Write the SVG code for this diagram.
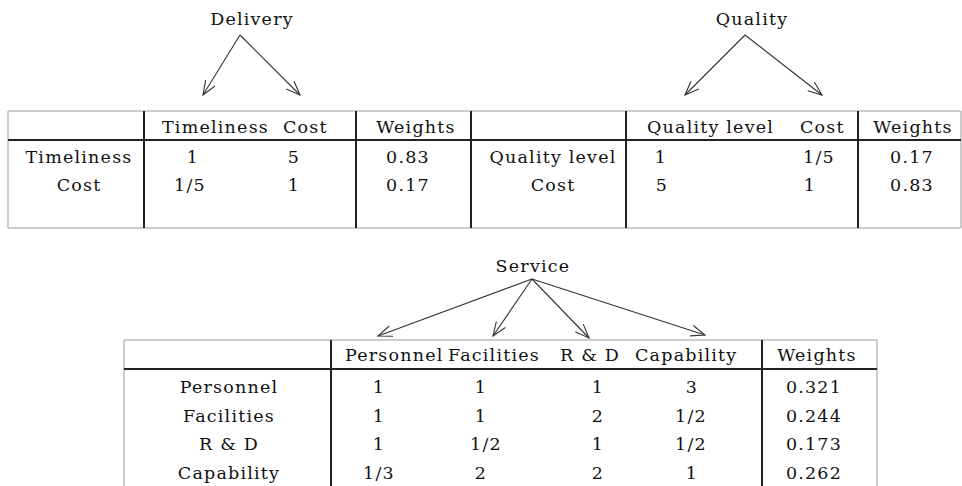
<svg xmlns="http://www.w3.org/2000/svg" width="962" height="486" viewBox="0 0 962 486">
<style>
text{font-family:"DejaVu Serif","Liberation Serif",serif;font-size:17.5px;fill:#111;letter-spacing:1.2px}
.m{text-anchor:middle}
.g{stroke:#bdbdbd;stroke-width:1.5;fill:none}
.d{stroke:#222;stroke-width:2;fill:none}
.c{stroke:#333;stroke-width:1.1;fill:none;marker-end:url(#ah)}
</style>
<defs>
<marker id="ah" viewBox="0 0 16 12" refX="15" refY="6" markerWidth="16" markerHeight="12" markerUnits="userSpaceOnUse" orient="auto">
<path d="M1,0.5 L15,6 L1,11.5" fill="none" stroke="#333" stroke-width="1.1"/>
</marker>
</defs>
<rect width="962" height="486" fill="#fff"/>

<g id="node-delivery"><text class="m" x="252" y="25">Delivery</text></g>
<g id="node-quality"><text class="m" x="752" y="25">Quality</text></g>
<g id="node-service"><text class="m" x="533" y="272">Service</text></g>

<g id="connectors">
<line class="c" x1="240" y1="35" x2="203" y2="95"/>
<line class="c" x1="240" y1="35" x2="300" y2="95"/>
<line class="c" x1="745" y1="35" x2="685" y2="95"/>
<line class="c" x1="745" y1="35" x2="822" y2="95"/>
<line class="c" x1="532" y1="279" x2="378" y2="336"/>
<line class="c" x1="532" y1="279" x2="493" y2="336"/>
<line class="c" x1="532" y1="279" x2="589" y2="338"/>
<line class="c" x1="532" y1="279" x2="705" y2="335"/>
</g>

<g id="table-top">
<line class="g" x1="8" y1="111" x2="961" y2="111"/>
<line class="g" x1="8" y1="228" x2="961" y2="228"/>
<line class="g" x1="8" y1="111" x2="8" y2="228"/>
<line class="g" x1="961" y1="111" x2="961" y2="228"/>
<line class="d" x1="8" y1="140" x2="961" y2="140"/>
<line class="d" x1="144" y1="111" x2="144" y2="228"/>
<line class="d" x1="356" y1="111" x2="356" y2="228"/>
<line class="d" x1="471" y1="111" x2="471" y2="228"/>
<line class="d" x1="626" y1="111" x2="626" y2="228"/>
<line class="d" x1="858" y1="111" x2="858" y2="228"/>

<text x="162" y="133">Timeliness</text>
<text x="283" y="133">Cost</text>
<text class="m" x="416" y="133">Weights</text>
<text class="m" x="79" y="163">Timeliness</text>
<text class="m" x="79" y="191">Cost</text>
<text class="m" x="193" y="163">1</text>
<text class="m" x="294" y="163">5</text>
<text class="m" x="408" y="163">0.83</text>
<text class="m" x="190" y="191">1/5</text>
<text class="m" x="294" y="191">1</text>
<text class="m" x="408" y="191">0.17</text>

<text x="647" y="133">Quality level</text>
<text x="800" y="133">Cost</text>
<text class="m" x="913" y="133">Weights</text>
<text class="m" x="553" y="163">Quality level</text>
<text class="m" x="553" y="191">Cost</text>
<text class="m" x="661" y="163">1</text>
<text class="m" x="819" y="163">1/5</text>
<text class="m" x="912" y="163">0.17</text>
<text class="m" x="662" y="191">5</text>
<text class="m" x="810" y="191">1</text>
<text class="m" x="912" y="191">0.83</text>
</g>

<g id="table-bottom">
<line class="g" x1="124" y1="340" x2="877" y2="340"/>
<line class="g" x1="124" y1="340" x2="124" y2="486"/>
<line class="g" x1="877" y1="340" x2="877" y2="486"/>
<line class="d" x1="124" y1="369" x2="877" y2="369"/>
<line class="d" x1="331" y1="340" x2="331" y2="486"/>
<line class="d" x1="762" y1="340" x2="762" y2="486"/>

<text x="345" y="361">Personnel</text>
<text x="448" y="361">Facilities</text>
<text x="560" y="361">R &amp; D</text>
<text x="635" y="361">Capability</text>
<text class="m" x="817" y="361">Weights</text>

<text class="m" x="229" y="393">Personnel</text>
<text class="m" x="229" y="422">Facilities</text>
<text class="m" x="229" y="450">R &amp; D</text>
<text class="m" x="229" y="479">Capability</text>

<text class="m" x="379" y="393">1</text>
<text class="m" x="481" y="393">1</text>
<text class="m" x="598" y="393">1</text>
<text class="m" x="692" y="393">3</text>
<text class="m" x="814" y="393">0.321</text>

<text class="m" x="379" y="422">1</text>
<text class="m" x="481" y="422">1</text>
<text class="m" x="598" y="422">2</text>
<text class="m" x="691" y="422">1/2</text>
<text class="m" x="814" y="422">0.244</text>

<text class="m" x="379" y="450">1</text>
<text class="m" x="486" y="450">1/2</text>
<text class="m" x="598" y="450">1</text>
<text class="m" x="691" y="450">1/2</text>
<text class="m" x="814" y="450">0.173</text>

<text class="m" x="379" y="479">1/3</text>
<text class="m" x="481" y="479">2</text>
<text class="m" x="598" y="479">2</text>
<text class="m" x="692" y="479">1</text>
<text class="m" x="814" y="479">0.262</text>
</g>
</svg>
